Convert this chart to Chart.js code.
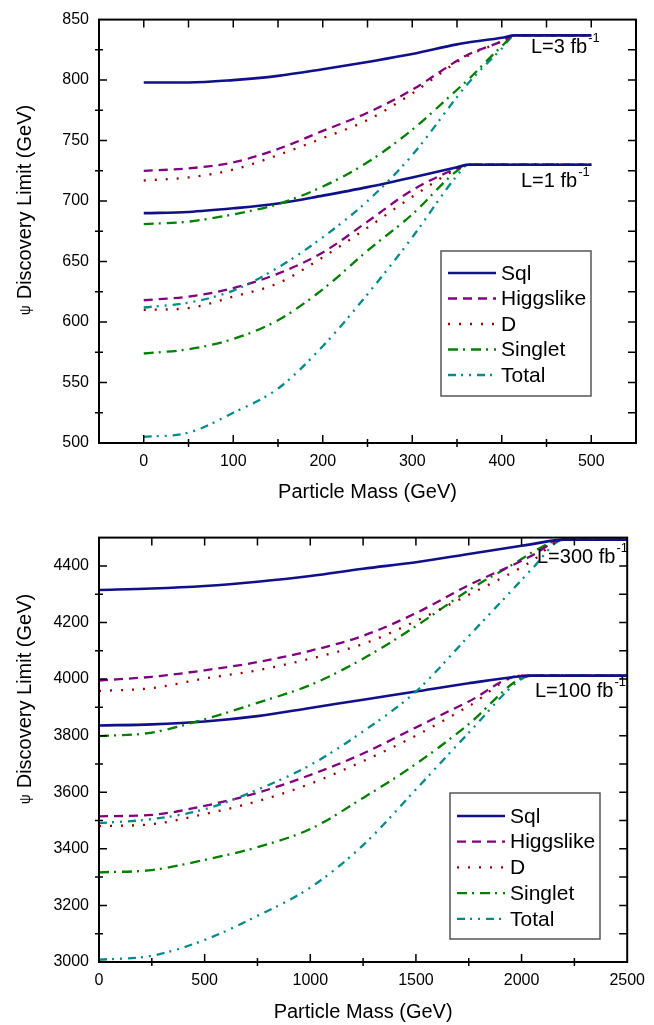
<!DOCTYPE html>
<html>
<head>
<meta charset="UTF-8">
<title>psi discovery limit</title>
<script src="https://cdn.jsdelivr.net/npm/chart.js"></script>
<style>
  body { margin: 0; background: #fff; }
  canvas { position: absolute; left: 0; }
</style>
</head>
<body>
<canvas id="chartTop" width="654" height="518" style="top:0px"></canvas>
<canvas id="chartBottom" width="654" height="507" style="top:518px"></canvas>
<script>
// series names, same order in both panels
const seriesNames = ['Sql', 'Higgslike', 'D', 'Singlet', 'Total'];

// top panel: L = 3 fb-1 and L = 1 fb-1
const massTop = [0, 50, 100, 150, 200, 250, 300, 350, 362, 400, 415, 450, 500];
const sqlL3     = [798, 798, 800, 803.5, 809, 815, 821.5, 829.5, 831, 835, 837, 837, 837];
const higgsL3   = [725, 727, 732, 743, 758, 773, 792, 816, 821, 832, 837, 837, 837];
const dL3       = [717, 719.5, 726, 738, 752, 767, 789, 815, 820, 832, 837, 837, 837];
const singletL3 = [681, 683, 689, 697.5, 712, 732, 759, 792, 800, 828, 837, 837, 837];
const totalL3   = [612, 616, 626, 645, 670, 700, 738, 786, 797, 826, 837, 837, 837];
const sqlL1     = [690, 691, 694, 698, 704.5, 711.5, 719.5, 728, 730, 730, 730, 730, 730];
const higgsL1   = [618, 621, 628, 640, 657.5, 683, 709, 727, 730, 730, 730, 730, 730];
const dL1       = [610, 611.5, 621, 632, 653.5, 678, 703.5, 726.5, 730, 730, 730, 730, 730];
const singletL1 = [574, 577.5, 586, 601.5, 627, 659, 689, 725, 730, 730, 730, 730, 730];
const totalL1   = [505, 508.5, 525, 545, 580, 623, 670, 721, 730, 730, 730, 730, 730];
const xTicksTop = [0, 100, 200, 300, 400, 500];
const yTicksTop = [500, 550, 600, 650, 700, 750, 800, 850];

// bottom panel: L = 300 fb-1 and L = 100 fb-1
const massBot = [0, 250, 500, 750, 1000, 1250, 1500, 1750, 2000, 2050, 2200, 2500];
const sqlL300     = [4315, 4320, 4329, 4344, 4364, 4390, 4413, 4442, 4471, 4477, 4493, 4493];
const higgsL300   = [3995, 4008, 4031, 4060, 4100, 4153, 4233, 4332, 4418, 4437, 4493, 4493];
const dL300       = [3958, 3968, 4002, 4031, 4072, 4124, 4205, 4298, 4395, 4418, 4493, 4493];
const singletL300 = [3798, 3811, 3858, 3916, 3979, 4072, 4187, 4314, 4424, 4448, 4493, 4493];
const totalL300   = [3491, 3505, 3540, 3609, 3696, 3815, 3956, 4152, 4350, 4390, 4493, 4493];
const sqlL100     = [3836, 3840, 3850, 3869, 3898, 3927, 3956, 3985, 4010, 4012, 4012, 4012];
const higgsL100   = [3515, 3520, 3552, 3598, 3661, 3737, 3829, 3921, 4012, 4012, 4012, 4012];
const dL100       = [3480, 3487, 3523, 3568, 3630, 3710, 3800, 3904, 4012, 4012, 4012, 4012];
const singletL100 = [3317, 3325, 3361, 3406, 3470, 3580, 3700, 3841, 4005, 4012, 4012, 4012];
const totalL100   = [3008, 3022, 3078, 3163, 3263, 3413, 3610, 3810, 4000, 4012, 4012, 4012];
const xTicksBot = [0, 500, 1000, 1500, 2000, 2500];
const yTicksBot = [3000, 3200, 3400, 3600, 3800, 4000, 4200, 4400];

// line styles
const seriesColor = ['#10108a', '#800080', '#990000', '#008000', '#008b8b'];
const seriesDash = [[], [9, 6], [2, 9], [10, 5, 2, 6], [8, 5, 2, 6, 2, 6]];
const seriesWidth = [2.6, 2.3, 2.3, 2.3, 2.3];

const FONT = '"Liberation Sans", Arial, sans-serif';

function buildSets(mass, groups) {
    const sets = [];
    groups.forEach(group => {
        group.forEach((vals, i) => {
            sets.push({
                label: seriesNames[i],
                data: vals.map((v, k) => ({ x: mass[k], y: v })),
                borderColor: seriesColor[i],
                borderDash: seriesDash[i],
                borderWidth: seriesWidth[i],
                pointRadius: 0,
                fill: false,
                cubicInterpolationMode: 'monotone'
            });
        });
    });
    return sets;
}

// frame, inward ticks, legend box, luminosity notes and axis titles
function decorations(cfg) {
    return {
        id: 'decorations',
        afterDatasetsDraw(chart) {
            const ctx = chart.ctx, a = chart.chartArea;
            const sx = chart.scales.x, sy = chart.scales.y;
            ctx.save();
            ctx.strokeStyle = '#000';
            ctx.lineWidth = 2;
            ctx.strokeRect(a.left, a.top, a.right - a.left, a.bottom - a.top);

            ctx.lineWidth = 1.5;
            ctx.beginPath();
            cfg.xMarks.forEach(v => {
                const p = sx.getPixelForValue(v);
                if (v % cfg.xMajor === 0) {
                    ctx.moveTo(p, a.bottom); ctx.lineTo(p, a.bottom - 8);
                } else {
                    ctx.moveTo(p, a.bottom + 4); ctx.lineTo(p, a.bottom - 4);
                }
                ctx.moveTo(p, a.top); ctx.lineTo(p, a.top + 8);
            });
            cfg.yMarks.forEach(v => {
                const p = sy.getPixelForValue(v);
                if (v % cfg.yMajor === 0) {
                    ctx.moveTo(a.left, p); ctx.lineTo(a.left + 8, p);
                } else {
                    ctx.moveTo(a.left - 4, p); ctx.lineTo(a.left + 4, p);
                }
                ctx.moveTo(a.right, p); ctx.lineTo(a.right - 8, p);
            });
            ctx.stroke();

            // legend
            const lg = cfg.legend;
            ctx.fillStyle = '#fff';
            ctx.fillRect(lg.x, lg.y, lg.w, lg.h);
            ctx.strokeStyle = '#555';
            ctx.lineWidth = 1.5;
            ctx.strokeRect(lg.x, lg.y, lg.w, lg.h);
            ctx.font = '21px ' + FONT;
            ctx.textAlign = 'left';
            ctx.textBaseline = 'middle';
            seriesNames.forEach((name, i) => {
                const ly = lg.y + lg.first + i * lg.step;
                ctx.strokeStyle = seriesColor[i];
                ctx.lineWidth = seriesWidth[i];
                ctx.setLineDash(seriesDash[i]);
                ctx.beginPath();
                ctx.moveTo(lg.x + 7, ly);
                ctx.lineTo(lg.x + 55, ly);
                ctx.stroke();
                ctx.setLineDash([]);
                ctx.fillStyle = '#000';
                ctx.fillText(name, lg.x + 60, ly + 1);
            });

            // luminosity notes
            ctx.textBaseline = 'alphabetic';
            cfg.notes.forEach(n => {
                ctx.font = '20px ' + FONT;
                ctx.fillText(n.text, n.x, n.y);
                const w = ctx.measureText(n.text).width;
                ctx.font = '13px ' + FONT;
                ctx.fillText('-1', n.x + w + 1, n.y - 11);
            });

            // axis titles
            ctx.font = '20px ' + FONT;
            ctx.textAlign = 'center';
            ctx.fillText('Particle Mass (GeV)', (a.left + a.right) / 2, cfg.xTitleY);
            ctx.translate(25, cfg.yTitleY);
            ctx.rotate(-Math.PI / 2);
            ctx.textBaseline = 'middle';
            const main = 'Discovery Limit (GeV)';
            const wMain = ctx.measureText(main).width;
            ctx.font = '14px ' + FONT;
            const wPsi = ctx.measureText('\u03C8 ').width;
            const start = -(wMain + wPsi) / 2;
            ctx.textAlign = 'left';
            ctx.fillText('\u03C8 ', start, 1);
            ctx.font = '20px ' + FONT;
            ctx.fillText(main, start + wPsi + 2, 0);
            ctx.restore();
        }
    };
}

function makeChart(id, sets, xr, yr, xTicks, yTicks, axisH, padRight, deco) {
    return new Chart(document.getElementById(id), {
        type: 'line',
        data: { datasets: sets },
        options: {
            responsive: false,
            animation: false,
            layout: { padding: { top: 12, right: padRight, left: 0, bottom: 0 } },
            plugins: { legend: { display: false }, tooltip: { enabled: false } },
            scales: {
                x: {
                    type: 'linear', min: xr[0], max: xr[1],
                    grid: { display: false, drawTicks: false },
                    border: { display: false },
                    afterBuildTicks: s => { s.ticks = xTicks.map(v => ({ value: v })); },
                    afterFit: s => { s.height = axisH; },
                    ticks: {
                        padding: 9, maxRotation: 0, color: '#000',
                        font: { family: FONT, size: 16 },
                        callback: v => String(v)
                    }
                },
                y: {
                    type: 'linear', min: yr[0], max: yr[1],
                    grid: { display: false, drawTicks: false },
                    border: { display: false },
                    afterBuildTicks: s => { s.ticks = yTicks.map(v => ({ value: v })); },
                    afterFit: s => { s.width = 99; },
                    ticks: {
                        padding: 10, color: '#000',
                        font: { family: FONT, size: 16 },
                        callback: v => String(v)
                    }
                }
            }
        },
        plugins: [decorations(deco)]
    });
}

makeChart('chartTop',
    buildSets(massTop, [
        [sqlL3, higgsL3, dL3, singletL3, totalL3],
        [sqlL1, higgsL1, dL1, singletL1, totalL1]
    ]),
    [-50, 550], [500, 850], xTicksTop, yTicksTop, 75, 18,
    {
        xMarks: [0, 50, 100, 150, 200, 250, 300, 350, 400, 450, 500], xMajor: 100,
        yMarks: [525, 550, 575, 600, 625, 650, 675, 700, 725, 750, 775, 800, 825], yMajor: 50,
        legend: { x: 441, y: 251, w: 150, h: 145, first: 22, step: 25.5 },
        notes: [{ text: 'L=3 fb', x: 531, y: 53 }, { text: 'L=1 fb', x: 521, y: 187 }],
        xTitleY: 498, yTitleY: 211
    });

makeChart('chartBottom',
    buildSets(massBot, [
        [sqlL300, higgsL300, dL300, singletL300, totalL300],
        [sqlL100, higgsL100, dL100, singletL100, totalL100]
    ]),
    [0, 2500], [3000, 4500], xTicksBot, yTicksBot, 63, 19,
    {
        xMarks: [250, 500, 750, 1000, 1250, 1500, 1750, 2000, 2250], xMajor: 500,
        yMarks: [3100, 3200, 3300, 3400, 3500, 3600, 3700, 3800, 3900, 4000, 4100, 4200, 4300, 4400], yMajor: 200,
        legend: { x: 450, y: 275, w: 150, h: 146, first: 23, step: 25.7 },
        notes: [{ text: 'L=300 fb', x: 537, y: 45 }, { text: 'L=100 fb', x: 535, y: 179 }],
        xTitleY: 500, yTitleY: 182
    });
</script>
</body>
</html>
